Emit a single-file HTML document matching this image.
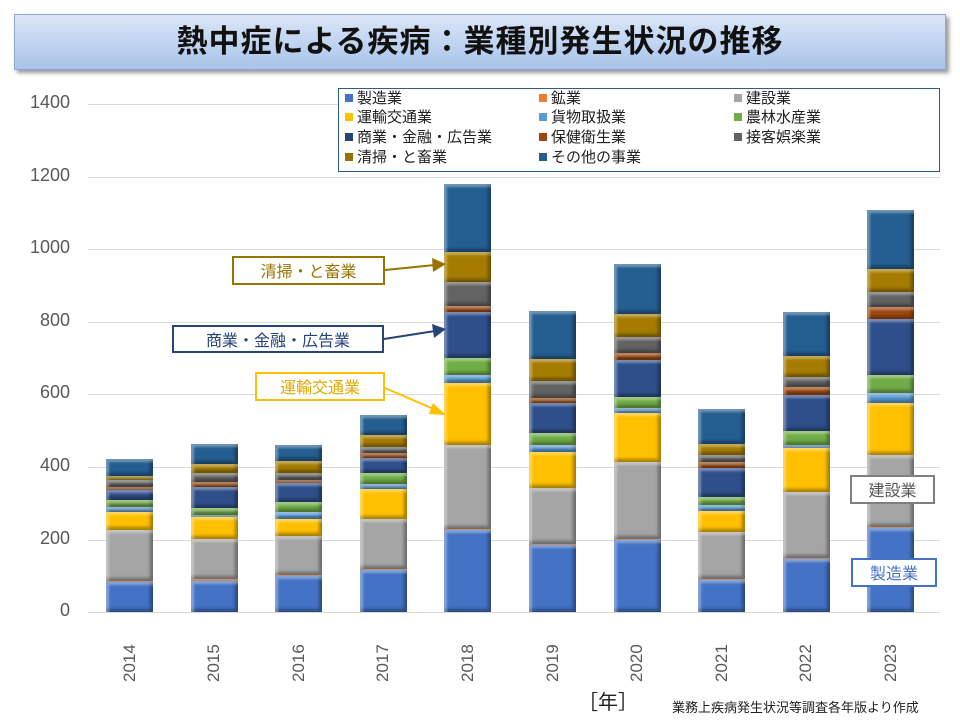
<!DOCTYPE html>
<html><head><meta charset="utf-8"><style>
body{margin:0;width:960px;height:720px;background:#fff;position:relative;overflow:hidden;font-family:"Liberation Sans","Noto Sans CJK JP",sans-serif}
.a{position:absolute}
.title{left:14px;top:14px;width:930px;height:54px;background:linear-gradient(#dbe6f7,#a9c3ea);border:1px solid #8fa9d6;box-shadow:3px 3px 4px #999;text-align:center;line-height:54px;font-size:31px;color:#111;letter-spacing:1px;font-weight:bold}
.grid{left:88px;width:852px;height:1px;background:#d9d9d9}
.yl{left:10px;width:60px;text-align:right;font-size:18px;color:#595959}
.seg{position:absolute;box-sizing:border-box;box-shadow:inset 3px 3px 2px rgba(255,255,255,.35),inset -3px -3px 3px rgba(0,0,0,.35)}
.xl{font-size:17px;color:#595959;transform:rotate(-90deg);transform-origin:left top;width:60px}
.leg{left:338px;top:88px;width:600px;height:82px;border:1px solid #2e5b87;background:#fff}
.li{position:absolute;font-size:15px;color:#222;line-height:18px}
.li i{display:inline-block;width:8px;height:8px;margin-right:4px;vertical-align:1px}
.cb{position:absolute;box-sizing:border-box;background:#fff;border:2px solid;font-size:16px;text-align:center}
</style></head><body>
<div class="a title">熱中症による疾病：業種別発生状況の推移</div>
<div class="a grid" style="top:104px"></div><div class="a grid" style="top:177px"></div><div class="a grid" style="top:249px"></div><div class="a grid" style="top:322px"></div><div class="a grid" style="top:394px"></div><div class="a grid" style="top:467px"></div><div class="a grid" style="top:540px"></div><div class="a grid" style="top:612px"></div>
<div class="a yl" style="top:92px">1400</div><div class="a yl" style="top:165px">1200</div><div class="a yl" style="top:237px">1000</div><div class="a yl" style="top:310px">800</div><div class="a yl" style="top:382px">600</div><div class="a yl" style="top:455px">400</div><div class="a yl" style="top:528px">200</div><div class="a yl" style="top:600px">0</div>
<div id="bars"></div>
<div class="a leg">
<div class="li" style="left:6px;top:1px"><i style="background:#4472c4"></i>製造業</div>
<div class="li" style="left:200px;top:1px"><i style="background:#ed7d31"></i>鉱業</div>
<div class="li" style="left:395px;top:1px"><i style="background:#a5a5a5"></i>建設業</div>
<div class="li" style="left:6px;top:20px"><i style="background:#ffc000"></i>運輸交通業</div>
<div class="li" style="left:200px;top:20px"><i style="background:#5b9bd5"></i>貨物取扱業</div>
<div class="li" style="left:395px;top:20px"><i style="background:#70ad47"></i>農林水産業</div>
<div class="li" style="left:6px;top:40px"><i style="background:#264478"></i>商業・金融・広告業</div>
<div class="li" style="left:200px;top:40px"><i style="background:#9e480e"></i>保健衛生業</div>
<div class="li" style="left:395px;top:40px"><i style="background:#636363"></i>接客娯楽業</div>
<div class="li" style="left:6px;top:60px"><i style="background:#997300"></i>清掃・と畜業</div>
<div class="li" style="left:200px;top:60px"><i style="background:#255e91"></i>その他の事業</div>
</div>
<svg class="a" style="left:0;top:0" width="960" height="720">
<line x1="385" y1="270" x2="435" y2="265" stroke="#997300" stroke-width="2"/><polygon points="446,264 432,258 433,272" fill="#997300"/>
<line x1="384" y1="339" x2="435" y2="331" stroke="#264478" stroke-width="2"/><polygon points="446,329 432,324 434,338" fill="#264478"/>
<line x1="385" y1="388" x2="436" y2="410" stroke="#ffc000" stroke-width="2"/><polygon points="446,415 433,403 429,414" fill="#ffc000"/>
</svg>
<div class="cb" style="left:232px;top:256px;width:153px;height:29px;border-color:#997300;color:#997300">清掃・と畜業</div>
<div class="cb" style="left:172px;top:325px;width:212px;height:28px;border-color:#264478;color:#264478">商業・金融・広告業</div>
<div class="cb" style="left:255px;top:372px;width:130px;height:29px;border-color:#ffc000;color:#e0a800">運輸交通業</div>
<div class="cb" style="left:850px;top:475px;width:85px;height:29px;border-color:#7f7f7f;color:#595959">建設業</div>
<div class="cb" style="left:851px;top:558px;width:86px;height:29px;border-color:#4472c4;color:#4472c4">製造業</div>
<div class="a" style="left:578px;top:686px;font-size:20px;color:#222">［年］</div>
<div class="a" style="left:672px;top:697px;font-size:13px;color:#222">業務上疾病発生状況等調査各年版より作成</div>
<script>
var C=["#4472c4","#ed7d31","#a5a5a5","#ffc000","#5b9bd5","#70ad47","#2f4f8a","#9e480e","#636363","#a57c00","#255e91"];
var D=[
[582,581,530,512,507,500,490,487,480,476,459],
[581,579,539,517,515,508,487,482,473,464,444],
[576,575,536,519,512,502,483,480,473,461,445],
[570,569,519,489,484,473,458,453,447,435,415],
[530,529,445,383,375,358,312,306,282,252,184],
[545,544,488,452,445,433,403,398,381,359,311],
[540,539,462,413,408,397,360,353,337,314,264],
[580,579,532,511,505,497,468,462,455,444,409],
[559,558,492,448,445,431,395,387,377,356,312],
[528,527,455,403,393,375,319,307,292,269,210]];
var h="",yrs=[2014,2015,2016,2017,2018,2019,2020,2021,2022,2023];
D.forEach(function(b,i){var cx=129.5+i*84.6,l=cx-23.5,prev=612;
b.forEach(function(t,k){if(prev-t>0)h+='<div class="seg" style="left:'+l+'px;top:'+t+'px;width:47px;height:'+(prev-t)+'px;background:'+C[k]+'"></div>';prev=t;});
h+='<div class="a xl" style="left:'+(cx-10)+'px;top:682px">'+yrs[i]+'</div>';});
document.getElementById("bars").innerHTML=h;
</script>
</body></html>
